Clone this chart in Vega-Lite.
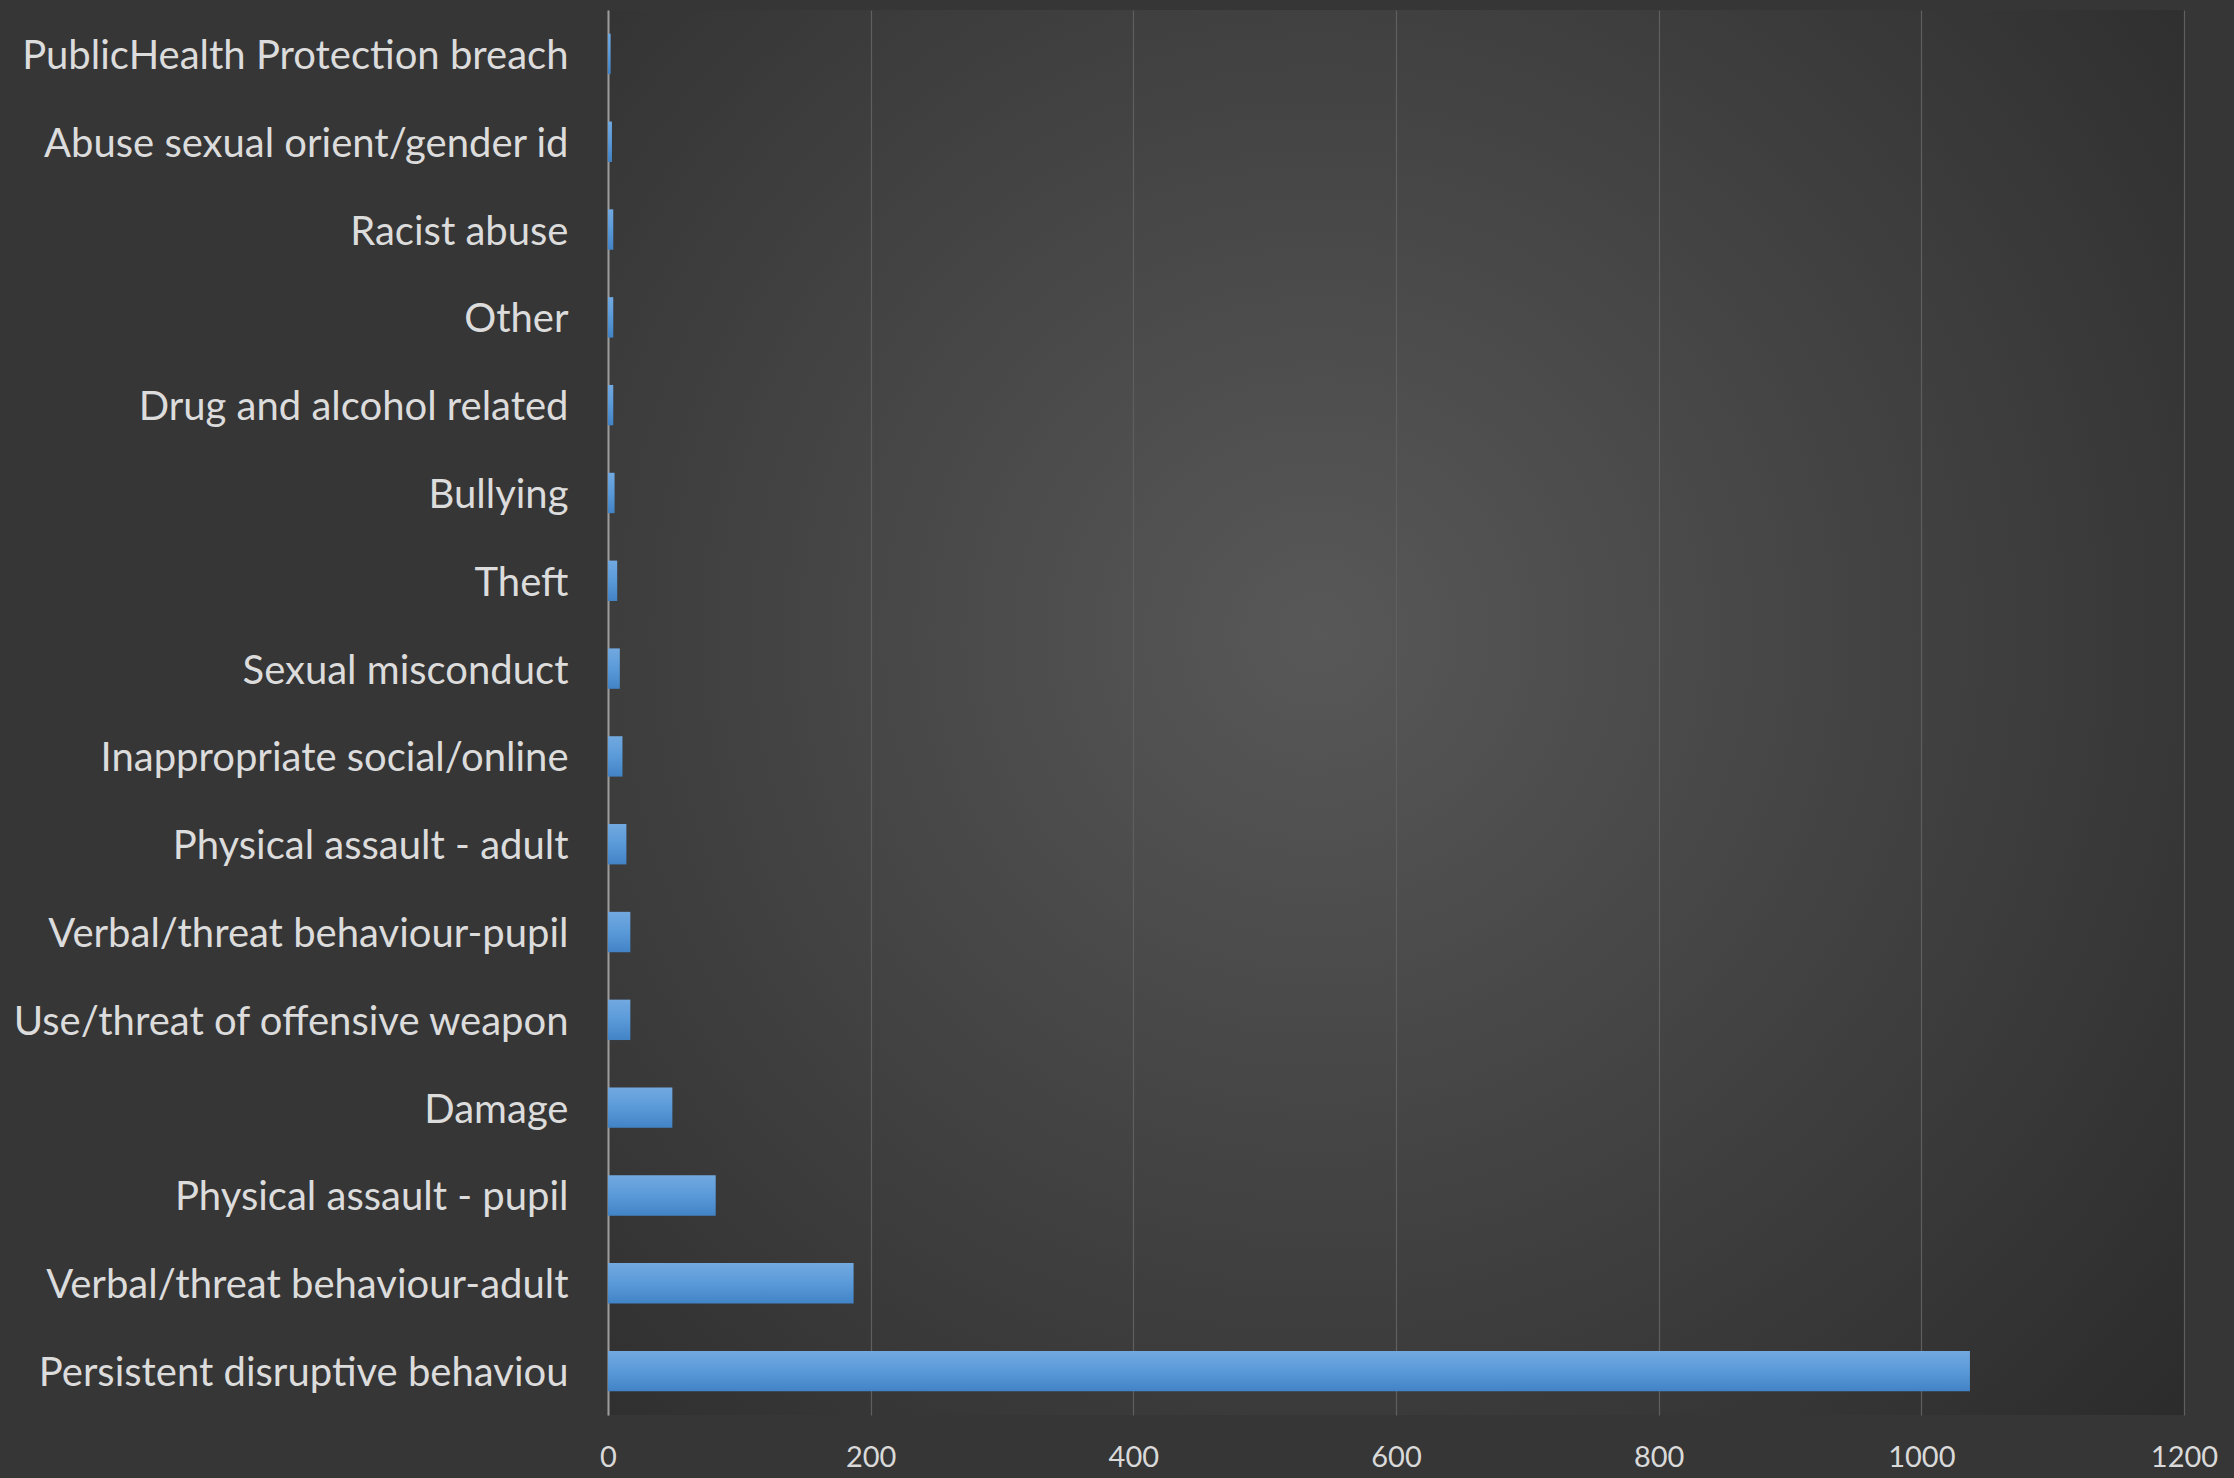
{
  "$schema": "https://vega.github.io/schema/vega-lite/v6.json",
  "width": 1576,
  "height": 1405,
  "autosize": "none",
  "padding": {"left": 608, "top": 10, "right": 50, "bottom": 63},
  "background": "#363636",
  "config": {
    "font": "Lato",
    "view": {
      "stroke": null,
      "fill": {
        "gradient": "radial",
        "x1": 0.45, "y1": 0.45, "r1": 0,
        "x2": 0.45, "y2": 0.45, "r2": 0.75,
        "stops": [
          {"offset": 0, "color": "#585858"},
          {"offset": 1, "color": "#2b2b2b"}
        ]
      }
    }
  },
  "data": {
    "values": [
      {"category": "PublicHealth Protection breach", "count": 2},
      {"category": "Abuse sexual orient/gender id", "count": 3},
      {"category": "Racist abuse", "count": 4},
      {"category": "Other", "count": 4},
      {"category": "Drug and alcohol related", "count": 4},
      {"category": "Bullying", "count": 5},
      {"category": "Theft", "count": 7},
      {"category": "Sexual misconduct", "count": 9},
      {"category": "Inappropriate social/online", "count": 11},
      {"category": "Physical assault - adult", "count": 14},
      {"category": "Verbal/threat behaviour-pupil", "count": 17},
      {"category": "Use/threat of offensive weapon", "count": 17},
      {"category": "Damage", "count": 49},
      {"category": "Physical assault - pupil", "count": 82},
      {"category": "Verbal/threat behaviour-adult", "count": 187},
      {"category": "Persistent disruptive behaviou", "count": 1037}
    ]
  },
  "mark": {
    "type": "bar",
    "color": {
      "gradient": "linear",
      "x1": 0, "y1": 0, "x2": 0, "y2": 1,
      "stops": [
        {"offset": 0, "color": "#72a9e0"},
        {"offset": 0.5, "color": "#5a9ad9"},
        {"offset": 1, "color": "#4283c6"}
      ]
    }
  },
  "encoding": {
    "y": {
      "field": "category",
      "type": "nominal",
      "sort": null,
      "scale": {"paddingInner": 0.54, "paddingOuter": 0.27},
      "axis": {
        "title": null,
        "ticks": false,
        "labelPadding": 40,
        "labelFontSize": 40,
        "labelOffset": 3,
        "labelColor": "#dcdcdc",
        "labelLimit": 700,
        "domainColor": "#9c9c9c",
        "domainWidth": 2,
        "grid": false
      }
    },
    "x": {
      "field": "count",
      "type": "quantitative",
      "scale": {"domain": [0, 1200], "nice": false},
      "axis": {
        "title": null,
        "values": [0, 200, 400, 600, 800, 1000, 1200],
        "format": "d",
        "ticks": false,
        "domain": false,
        "labelPadding": 28,
        "labelFontSize": 29,
        "labelColor": "#d9d9d9",
        "labelFlush": false,
        "grid": true,
        "gridColor": "#5f5f5f",
        "gridWidth": 1.2
      }
    }
  }
}
